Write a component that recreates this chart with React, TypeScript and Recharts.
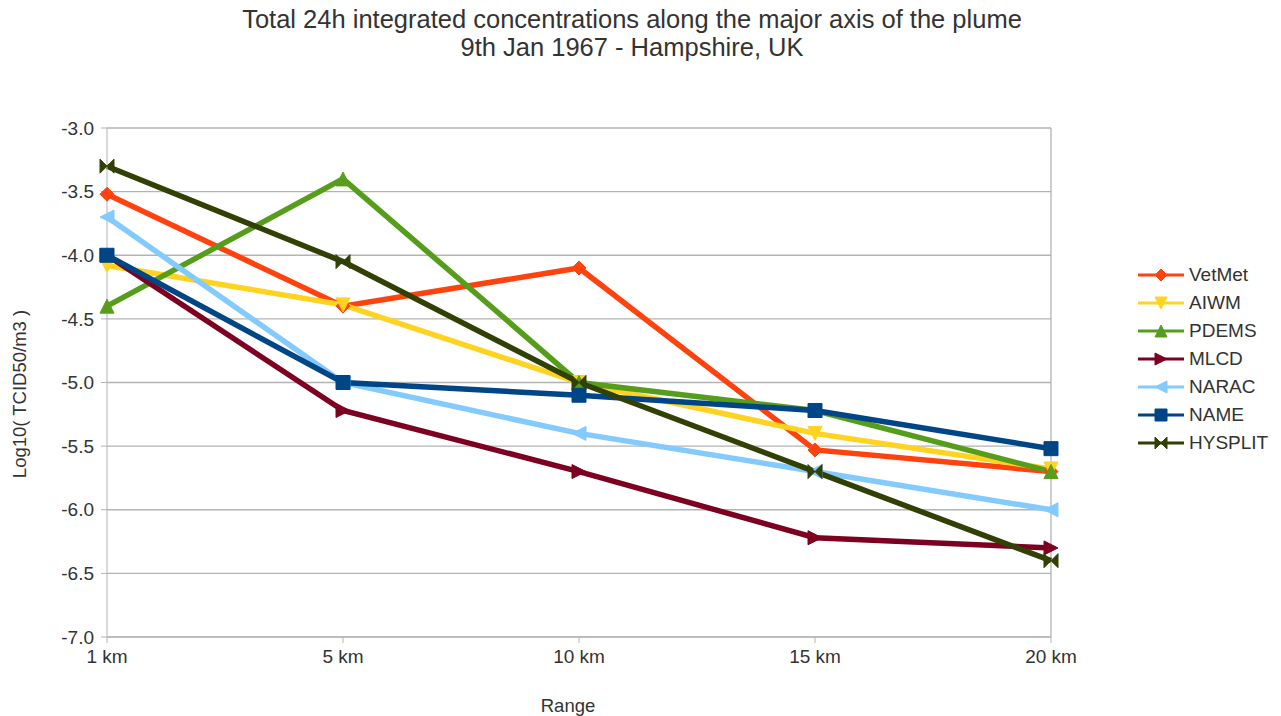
import React from 'react';
import {
  LineChart,
  Line,
  XAxis,
  YAxis,
  CartesianGrid,
  ReferenceLine,
} from 'recharts';

const ranges = ['1 km', '5 km', '10 km', '15 km', '20 km'];

const vetMet = [-3.52, -4.4, -4.1, -5.53, -5.7];
const aiwm = [-4.08, -4.39, -5.0, -5.4, -5.68];
const pdems = [-4.4, -3.4, -5.0, -5.22, -5.7];
const mlcd = [-4.0, -5.22, -5.7, -6.22, -6.3];
const narac = [-3.7, -5.0, -5.4, -5.7, -6.0];
const name = [-4.0, -5.0, -5.1, -5.22, -5.52];
const hysplit = [-3.3, -4.05, -5.0, -5.7, -6.4];

const yTicks = [-7, -6.5, -6, -5.5, -5, -4.5, -4, -3.5, -3];

type Shape = 'diamond' | 'down' | 'up' | 'right' | 'left' | 'square' | 'bowtie';

const series: { key: string; values: number[]; color: string; shape: Shape }[] = [
  { key: 'VetMet', values: vetMet, color: '#ff420e', shape: 'diamond' },
  { key: 'AIWM', values: aiwm, color: '#ffd320', shape: 'down' },
  { key: 'PDEMS', values: pdems, color: '#579d1c', shape: 'up' },
  { key: 'MLCD', values: mlcd, color: '#7e0021', shape: 'right' },
  { key: 'NARAC', values: narac, color: '#83caff', shape: 'left' },
  { key: 'NAME', values: name, color: '#004586', shape: 'square' },
  { key: 'HYSPLIT', values: hysplit, color: '#314004', shape: 'bowtie' },
];

const data = ranges.map((r, i) => {
  const row: Record<string, string | number> = { range: r };
  series.forEach((s) => {
    row[s.key] = s.values[i];
  });
  return row;
});

const FONT = '"Liberation Sans", Arial, sans-serif';
const TEXT = '#333333';
const GRID = '#b3b3b3';

function markerPath(shape: Shape, s: number): string {
  switch (shape) {
    case 'diamond':
      return `M0 ${-s} L${s} 0 L0 ${s} L${-s} 0 Z`;
    case 'down':
      return `M${-s} ${-s} L${s} ${-s} L0 ${s} Z`;
    case 'up':
      return `M${-s} ${s} L${s} ${s} L0 ${-s} Z`;
    case 'right':
      return `M${-s} ${-s} L${s} 0 L${-s} ${s} Z`;
    case 'left':
      return `M${s} ${-s} L${-s} 0 L${s} ${s} Z`;
    case 'square':
      return `M${-s} ${-s} L${s} ${-s} L${s} ${s} L${-s} ${s} Z`;
    case 'bowtie':
      return `M${-s} ${-s} L${s} ${s} L${s} ${-s} L${-s} ${s} Z`;
  }
}

const Marker = ({ cx, cy, shape, color, size = 7 }: { cx: number; cy: number; shape: Shape; color: string; size?: number }) => (
  <path d={markerPath(shape, size)} transform={`translate(${cx},${cy})`} fill={color} stroke={color} strokeWidth={1} />
);

const LegendBox = () => (
  <div style={{ position: 'absolute', left: 1137, top: 261, fontFamily: FONT, fontSize: 19, color: TEXT }}>
    {series.map((s) => (
      <div key={s.key} style={{ display: 'flex', alignItems: 'center', height: 28 }}>
        <svg width={48} height={20} style={{ marginRight: 4 }}>
          <line x1={1} y1={10} x2={47} y2={10} stroke={s.color} strokeWidth={3} />
          <Marker cx={24} cy={10} shape={s.shape} color={s.color} size={6} />
        </svg>
        <span>{s.key}</span>
      </div>
    ))}
  </div>
);

export default function App() {
  return (
    <div style={{ position: 'absolute', left: 0, top: 0, width: 1281, height: 716, background: '#fff', fontFamily: FONT }}>
      <div style={{ position: 'absolute', left: 0, width: 1264, top: 5, textAlign: 'center', fontSize: 25.5, lineHeight: '28px', color: TEXT }}>
        Total 24h integrated concentrations along the major axis of the plume
        <br />
        9th Jan 1967 - Hampshire, UK
      </div>
      <LineChart
        width={1281}
        height={716}
        data={data}
        margin={{ top: 128, right: 230, left: 47, bottom: 49 }}
      >
        <CartesianGrid vertical={false} stroke={GRID} strokeWidth={1.3} />
        <ReferenceLine x="20 km" stroke={GRID} strokeWidth={1.3} ifOverflow="extendDomain" />
        <XAxis
          dataKey="range"
          height={30}
          padding={{ left: 0, right: 0 }}
          stroke={GRID}
          tickSize={6}
          tick={{ fill: TEXT, fontSize: 19, fontFamily: FONT }}
          tickMargin={7}
          interval={0}
        />
        <YAxis
          width={60}
          domain={[-7, -3]}
          ticks={yTicks}
          stroke={GRID}
          tickSize={6}
          tickMargin={7}
          tick={{ fill: TEXT, fontSize: 19, fontFamily: FONT }}
          tickFormatter={(v: number) => v.toFixed(1)}
          interval={0}
        />
        {series.map((s) => (
          <Line
            key={s.key}
            dataKey={s.key}
            type="linear"
            stroke={s.color}
            strokeWidth={5.5}
            isAnimationActive={false}
            dot={(p: any) => <Marker key={`${s.key}-${p.index}`} cx={p.cx} cy={p.cy} shape={s.shape} color={s.color} />}
            activeDot={false}
          />
        ))}
      </LineChart>
      <LegendBox />
      <div
        style={{
          position: 'absolute',
          left: 20,
          top: 394,
          transform: 'translate(-50%, -50%) rotate(-90deg)',
          whiteSpace: 'nowrap',
          fontSize: 18.5,
          color: TEXT,
        }}
      >
        Log10( TCID50/m3 )
      </div>
      <div style={{ position: 'absolute', left: 568, top: 706, transform: 'translate(-50%, -50%)', fontSize: 18.5, color: TEXT }}>
        Range
      </div>
    </div>
  );
}
